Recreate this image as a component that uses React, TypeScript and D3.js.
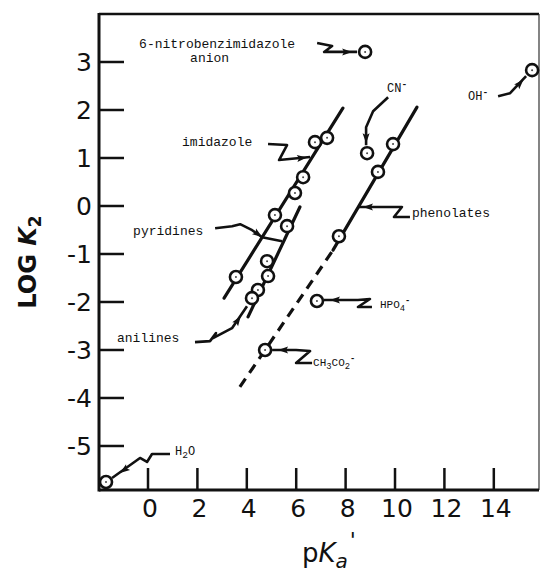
import { useEffect, useRef } from "react";
import * as d3 from "d3";

// axis ticks
const xTicks = [0, 2, 4, 6, 8, 10, 12, 14];
const yTicks = [3, 2, 1, 0, -1, -2, -3, -4, -5];

// points (pKa', log K2)
const pyridines = [[3.56, -1.48], [5.14, -0.19]];
const imidazoles = [[5.95, 0.27], [6.28, 0.6], [6.76, 1.33], [7.25, 1.42]];
const anilines = [[5.63, -0.42], [4.82, -1.15], [4.86, -1.46], [4.45, -1.75], [4.21, -1.92]];
const phenolates = [[7.73, -0.63], [9.31, 0.71], [9.92, 1.29]];
const others = [
  [8.79, 3.21], // 6-nitrobenzimidazole anion
  [15.55, 2.83], // OH-
  [8.87, 1.1], // CN-
  [6.84, -1.98], // HPO4-
  [4.74, -3.0], // CH3CO2-
  [-1.7, -5.75], // H2O
];

// fitted lines
const pyridineLine = [[3.08, -1.92], [7.89, 2.04]];
const anilineLine = [[4.05, -2.31], [6.15, -0.02]];
const phenolateLine = [[7.49, -0.92], [10.89, 2.06]];
const phenolateDashed = [[3.72, -3.77], [7.49, -0.92]];

// annotation targets (data coords)
const labelTargets = {
  nitro: [8.79, 3.21],
  imidazole: [6.56, 1.02],
  pyridines: [4.62, -0.65],
  anilines: [4.21, -1.92],
  phenolates: [8.5, -0.02],
  cn: [8.87, 1.1],
  oh: [15.55, 2.83],
  hpo4: [6.84, -1.98],
  acetate: [4.74, -3.0],
  water: [-1.7, -5.75],
};

// label parts: [text, kind] kind: n normal, b subscript, p superscript
const annotations = [
  { key: "nitro", lines: [[["6-nitrobenzimidazole", "n"]], [["anion", "n"]]], at: [[-226, -4], [-175, 10]], size: 13,
    leader: [[-48, -9], [-33, -6], [-41, 0], [-8, 0]], arrow: [-18, 0] },
  { key: "imidazole", lines: [[["imidazole", "n"]]], at: [[-128, -11]], size: 13,
    leader: [[-42, -13], [-23, -12], [-31, 3], [0, 0]], arrow: [-8, 1] },
  { key: "pyridines", lines: [[["pyridines", "n"]]], at: [[-129, -2]], size: 13,
    leader: [[-47, -9], [-30, -11], [-22, -13], [-10, -7], [0, 0], [20, 4]], arrow: [-4, -3] },
  { key: "anilines", lines: [[["anilines", "n"]]], at: [[-135, 44]], size: 13,
    leader: [[-57, 44], [-42, 43], [-36, 35], [-39, 40], [-20, 30], [-5, 8]], arrow: [-14, 22] },
  { key: "phenolates", lines: [[["phenolates", "n"]]], at: [[54, 10]], size: 13,
    leader: [[52, 10], [36, 10], [44, 0], [0, 0]], arrow: [10, 0] },
  { key: "cn", lines: [[["CN", "n"], ["-", "p"]]], at: [[20, -61]], size: 12,
    leader: [[21, -56], [6, -42], [-1, -26], [-1, -8]], arrow: [-1, -15] },
  { key: "oh", lines: [[["OH", "n"], ["-", "p"]]], at: [[-64, 30]], size: 12,
    leader: [[-34, 26], [-22, 23], [-6, 6]], arrow: [-12, 13] },
  { key: "hpo4", lines: [[["HPO", "n"], ["4", "b"], ["-", "p"]]], at: [[63, 7]], size: 11,
    leader: [[55, 6], [41, 6], [53, -2], [41, -1], [7, -1]], arrow: [18, -1] },
  { key: "acetate", lines: [[["CH", "n"], ["3", "b"], ["CO", "n"], ["2", "b"], ["-", "p"]]], at: [[48, 16]], size: 11,
    leader: [[47, 13], [31, 13], [45, 1], [31, 0], [7, 0]], arrow: [18, 0] },
  { key: "water", lines: [[["H", "n"], ["2", "b"], ["O", "n"]]], at: [[69, -27]], size: 12,
    leader: [[64, -28], [46, -28], [41, -20], [34, -24], [6, -4]], arrow: [18, -12] },
];

const width = 541;
const height = 573;
const frame = { left: 99, right: 539, top: 14, bottom: 490 };

const App = () => {
  const ref = useRef(null);

  useEffect(() => {
    const svg = d3.select(ref.current);
    svg.selectAll("*").remove();

    const x = d3.scaleLinear().domain([-1.984, 15.87]).range([frame.left, 540]);
    const y = d3.scaleLinear().domain([-5.917, 4.0]).range([frame.bottom, frame.top]);

    // frame
    svg.append("line").attr("x1", frame.left).attr("x2", frame.right).attr("y1", frame.top).attr("y2", frame.top)
      .attr("stroke", "#111").attr("stroke-width", 2.5);
    svg.append("line").attr("x1", frame.right).attr("x2", frame.right).attr("y1", frame.top).attr("y2", frame.bottom)
      .attr("stroke", "#333").attr("stroke-width", 1.2);
    svg.append("line").attr("x1", frame.left).attr("x2", frame.left).attr("y1", frame.top - 1).attr("y2", frame.bottom + 1.5)
      .attr("stroke", "#111").attr("stroke-width", 3);
    svg.append("line").attr("x1", frame.left).attr("x2", frame.right).attr("y1", frame.bottom).attr("y2", frame.bottom)
      .attr("stroke", "#111").attr("stroke-width", 3);

    // y ticks (drawn inward)
    const yAxis = svg.append("g");
    yAxis.selectAll("line").data(yTicks).join("line")
      .attr("x1", frame.left).attr("x2", frame.left + 25)
      .attr("y1", (d) => y(d)).attr("y2", (d) => y(d))
      .attr("stroke", "#111").attr("stroke-width", 2.5);
    yAxis.selectAll("text").data(yTicks).join("text")
      .attr("x", 92).attr("y", (d) => y(d) + 9)
      .attr("text-anchor", "end")
      .attr("font-family", "DejaVu Sans")
      .attr("font-size", 25)
      .attr("fill", "#111")
      .text((d) => (d < 0 ? "-" + Math.abs(d) : String(d)));

    // x ticks (drawn inward)
    const xAxis = svg.append("g");
    xAxis.selectAll("line").data(xTicks).join("line")
      .attr("x1", (d) => x(d)).attr("x2", (d) => x(d))
      .attr("y1", frame.bottom).attr("y2", frame.bottom - 22)
      .attr("stroke", "#111").attr("stroke-width", 2.5);
    xAxis.selectAll("text").data(xTicks).join("text")
      .attr("x", (d) => x(d) + 2).attr("y", 517)
      .attr("text-anchor", "middle")
      .attr("font-family", "DejaVu Sans")
      .attr("font-size", 25)
      .attr("fill", "#111")
      .text((d) => String(d));

    // axis titles
    const yTitle = svg.append("text")
      .attr("transform", "translate(36, 262) rotate(-90)")
      .attr("text-anchor", "middle")
      .attr("font-family", "DejaVu Sans")
      .attr("font-weight", "bold")
      .attr("font-size", 24)
      .attr("fill", "#111");
    yTitle.append("tspan").text("LOG ");
    yTitle.append("tspan").attr("font-style", "italic").text("K");
    yTitle.append("tspan").attr("font-size", 17).attr("dy", 5).text("2");

    const xTitle = svg.append("text")
      .attr("x", 302).attr("y", 562)
      .attr("font-family", "DejaVu Sans")
      .attr("font-size", 26)
      .attr("fill", "#111");
    xTitle.append("tspan").text("p");
    xTitle.append("tspan").attr("font-style", "italic").text("K");
    xTitle.append("tspan").attr("font-style", "italic").attr("font-size", 20).attr("dy", 6).text("a");
    xTitle.append("tspan").attr("font-size", 22).attr("dy", -20).attr("dx", 2).text("'");

    // fitted lines
    const line = d3.line().x((d) => x(d[0])).y((d) => y(d[1]));
    [pyridineLine, anilineLine, phenolateLine].forEach((l) => {
      svg.append("path").attr("d", line(l)).attr("fill", "none")
        .attr("stroke", "#111").attr("stroke-width", 3.2).attr("stroke-linecap", "round");
    });
    svg.append("path").attr("d", line(phenolateDashed)).attr("fill", "none")
      .attr("stroke", "#111").attr("stroke-width", 3.2).attr("stroke-dasharray", "10,7");

    // annotations
    const ann = svg.append("g");
    const leaderLine = d3.line().curve(d3.curveLinear);
    annotations.forEach((a) => {
      const t = labelTargets[a.key];
      const tx = x(t[0]);
      const ty = y(t[1]);
      const pts = a.leader.map((p) => [tx + p[0], ty + p[1]]);
      ann.append("path").attr("d", leaderLine(pts)).attr("fill", "none")
        .attr("stroke", "#111").attr("stroke-width", 2.6).attr("stroke-linejoin", "round");

      // arrowhead pointing along the last leader segment
      const n = pts.length;
      let p0 = pts[n - 2], p1 = pts[n - 1];
      if (a.key === "pyridines") { p0 = pts[n - 3]; p1 = pts[n - 2]; }
      const ang = Math.atan2(p1[1] - p0[1], p1[0] - p0[0]) * 180 / Math.PI;
      ann.append("path")
        .attr("d", "M5,0 L-5,-3.5 L-3,0 L-5,3.5 Z")
        .attr("transform", `translate(${tx + a.arrow[0]},${ty + a.arrow[1]}) rotate(${ang})`)
        .attr("fill", "#111");

      a.lines.forEach((parts, i) => {
        const txt = ann.append("text")
          .attr("x", tx + a.at[i][0]).attr("y", ty + a.at[i][1])
          .attr("font-family", "Liberation Mono")
          .attr("font-size", a.size)
          .attr("fill", "#111");
        let shift = 0;
        parts.forEach(([s, kind]) => {
          const target = kind === "b" ? 3 : kind === "p" ? -5 : 0;
          txt.append("tspan")
            .attr("dy", target - shift)
            .attr("font-size", kind === "n" ? a.size : a.size * 0.8)
            .attr("font-weight", kind === "p" ? "bold" : "normal")
            .text(s);
          shift = target;
        });
      });
    });

    // data points
    const all = [...pyridines, ...imidazoles, ...anilines, ...phenolates, ...others];
    const pts = svg.append("g");
    pts.selectAll("circle").data(all).join("circle")
      .attr("cx", (d) => x(d[0])).attr("cy", (d) => y(d[1]))
      .attr("r", 6)
      .attr("fill", "white")
      .attr("stroke", "#111")
      .attr("stroke-width", 2.6);
    pts.selectAll("circle.dot").data(all).join("circle")
      .attr("class", "dot")
      .attr("cx", (d) => x(d[0])).attr("cy", (d) => y(d[1]))
      .attr("r", 1)
      .attr("fill", "#444");
  }, []);

  return (
    <svg
      ref={ref}
      width={width}
      height={height}
      style={{ position: "absolute", left: 0, top: 0, background: "white" }}
    />
  );
};

export default App;
